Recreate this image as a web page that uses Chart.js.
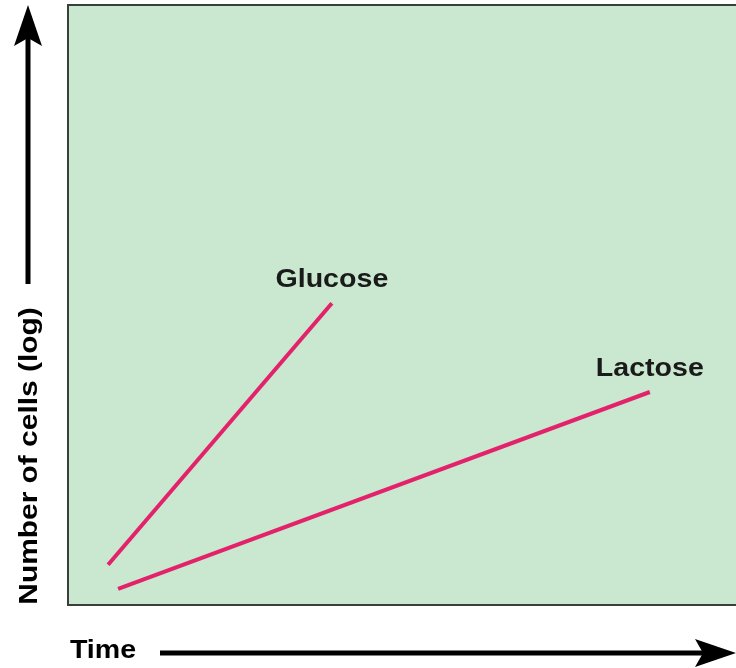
<!DOCTYPE html>
<html lang="en">
<head>
  <meta charset="UTF-8" />
  <title>Growth on Glucose vs Lactose</title>
  <script src="https://cdn.jsdelivr.net/npm/chart.js"></script>
  <style>
    html, body { margin: 0; padding: 0; background: #fff; }
    #wrap { width: 736px; height: 668px; position: relative; }
  </style>
</head>
<body>
  <div id="wrap"><canvas id="growthChart"></canvas></div>

  <script>
    // values (arbitrary units, 0-100 on both axes)
    const seriesNames = ['Glucose', 'Lactose'];
    const glucoseTime = [6.0, 39.5];
    const glucoseCells = [6.7, 50.3];
    const lactoseTime = [7.5, 87.1];
    const lactoseCells = [2.7, 35.5];
    const xTitle = 'Time';
    const yTitle = 'Number of cells (log)';

    const lineColor = '#e3226b';
    const plotBg = '#c9e8cf';
    const labelFont = 'bold 26px "Liberation Sans", Arial, sans-serif';

    function pts(xs, ys) {
      return xs.map((x, i) => ({ x: x, y: ys[i] }));
    }

    // stretched bold text like the original artwork
    function wideText(ctx, text, x, y, font, sx) {
      ctx.save();
      ctx.font = font;
      ctx.textAlign = 'center';
      ctx.textBaseline = 'middle';
      ctx.translate(x, y);
      ctx.scale(sx, 1);
      ctx.fillText(text, 0, 0);
      ctx.restore();
    }

    function arrowHead(ctx, tipX, tipY, dir) {
      // dir: 'up' or 'right'
      ctx.save();
      ctx.translate(tipX, tipY);
      if (dir === 'right') ctx.rotate(Math.PI / 2);
      ctx.beginPath();
      ctx.moveTo(0, 0);
      ctx.lineTo(14, 41);
      ctx.lineTo(0, 33);
      ctx.lineTo(-14, 41);
      ctx.closePath();
      ctx.fill();
      ctx.restore();
    }

    const decor = {
      id: 'decor',
      beforeDraw(chart) {
        const { ctx, chartArea: a } = chart;
        ctx.save();
        ctx.fillStyle = plotBg;
        ctx.fillRect(a.left, a.top, a.right - a.left, a.bottom - a.top);
        ctx.restore();
      },
      afterDraw(chart) {
        const { ctx, chartArea: a } = chart;
        ctx.save();
        // frame
        ctx.strokeStyle = '#3a3f3a';
        ctx.lineWidth = 2;
        ctx.beginPath();
        ctx.moveTo(a.right + 2, a.top);
        ctx.lineTo(a.left, a.top);
        ctx.lineTo(a.left, a.bottom);
        ctx.lineTo(a.right + 2, a.bottom);
        ctx.stroke();

        // series labels above line ends
        ctx.fillStyle = '#1a1a1a';
        chart.data.datasets.forEach((ds, i) => {
          const meta = chart.getDatasetMeta(i);
          const end = meta.data[meta.data.length - 1];
          wideText(ctx, ds.label, end.x, end.y - 23, labelFont, 1.1);
        });

        // axis titles with arrows
        ctx.fillStyle = '#000';
        ctx.strokeStyle = '#000';
        ctx.lineWidth = 5;

        const xAxisY = a.bottom + 48;
        wideText(ctx, xTitle, 103, xAxisY - 2, labelFont, 1.1);
        ctx.beginPath();
        ctx.moveTo(160, xAxisY);
        ctx.lineTo(710, xAxisY);
        ctx.stroke();
        arrowHead(ctx, 736, xAxisY, 'right');

        const yAxisX = 28;
        ctx.save();
        ctx.translate(yAxisX + 2, 456);
        ctx.rotate(-Math.PI / 2);
        wideText(ctx, yTitle, 0, 0, labelFont, 1.15);
        ctx.restore();
        ctx.beginPath();
        ctx.moveTo(yAxisX, 284);
        ctx.lineTo(yAxisX, 35);
        ctx.stroke();
        arrowHead(ctx, yAxisX, a.top, 'up');
        ctx.restore();
      }
    };

    new Chart(document.getElementById('growthChart'), {
      type: 'line',
      data: {
        datasets: [
          { label: seriesNames[0], data: pts(glucoseTime, glucoseCells) },
          { label: seriesNames[1], data: pts(lactoseTime, lactoseCells) }
        ]
      },
      options: {
        responsive: true,
        maintainAspectRatio: false,
        animation: false,
        layout: { padding: { left: 68, top: 5, right: 0, bottom: 63 } },
        elements: {
          line: { borderColor: lineColor, borderWidth: 4, borderCapStyle: 'butt' },
          point: { radius: 0 }
        },
        scales: {
          x: { type: 'linear', min: 0, max: 100, display: false },
          y: { type: 'linear', min: 0, max: 100, display: false }
        },
        plugins: {
          legend: { display: false },
          tooltip: { enabled: false }
        }
      },
      plugins: [decor]
    });
  </script>
</body>
</html>
